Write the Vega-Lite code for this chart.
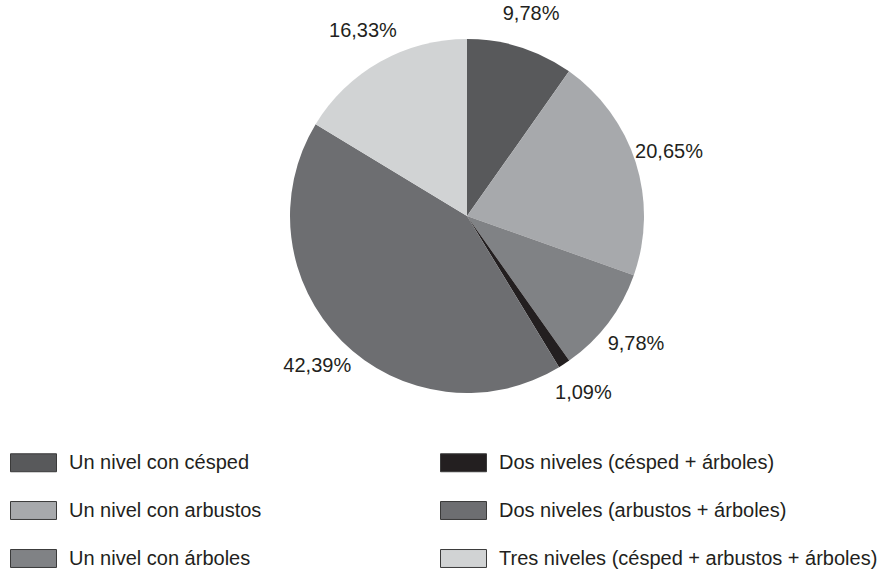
{
  "$schema": "https://vega.github.io/schema/vega-lite/v6.json",
  "autosize": "none",
  "width": 820,
  "height": 432,
  "padding": {"left": 57, "top": 0, "right": 0, "bottom": 140},
  "background": "white",
  "config": {"view": {"stroke": null}, "font": "Liberation Sans"},
  "data": {
    "values": [
      {"category": "Un nivel con césped", "value": 9.78, "label": "9,78%", "idx": 1},
      {"category": "Un nivel con arbustos", "value": 20.65, "label": "20,65%", "idx": 2},
      {"category": "Un nivel con árboles", "value": 9.78, "label": "9,78%", "idx": 3},
      {"category": "Dos niveles (césped + árboles)", "value": 1.09, "label": "1,09%", "idx": 4},
      {"category": "Dos niveles (arbustos + árboles)", "value": 42.39, "label": "42,39%", "idx": 5},
      {"category": "Tres niveles (césped + arbustos + árboles)", "value": 16.33, "label": "16,33%", "idx": 6}
    ]
  },
  "encoding": {
    "theta": {"field": "value", "type": "quantitative", "stack": true},
    "order": {"field": "idx", "type": "quantitative"}
  },
  "layer": [
    {
      "mark": {"type": "arc", "outerRadius": 177},
      "encoding": {
        "color": {
          "field": "category",
          "type": "nominal",
          "scale": {
            "domain": ["Un nivel con césped", "Un nivel con arbustos", "Un nivel con árboles", "Dos niveles (césped + árboles)", "Dos niveles (arbustos + árboles)", "Tres niveles (césped + arbustos + árboles)"],
            "range": ["#58595b", "#a7a9ac", "#808285", "#231f20", "#6d6e71", "#d1d3d4"]
          },
          "legend": {
            "title": null,
            "orient": "none",
            "legendX": -47,
            "legendY": 439,
            "columns": 2,
            "columnPadding": 176,
            "rowPadding": 13,
            "symbolType": "M-1,-0.39H1V0.39H-1Z",
            "symbolSize": 2116,
            "symbolStrokeColor": "#3a3a3a",
            "symbolStrokeWidth": 1,
            "symbolOpacity": 1,
            "labelFont": "Liberation Sans",
            "labelFontSize": 20,
            "labelColor": "#231f20",
            "labelOffset": 12,
            "labelLimit": 600
          }
        }
      }
    },
    {
      "mark": {"type": "text", "radius": 212, "font": "Liberation Sans", "fontSize": 20, "color": "#231f20"},
      "encoding": {"text": {"field": "label", "type": "nominal"}}
    }
  ]
}
